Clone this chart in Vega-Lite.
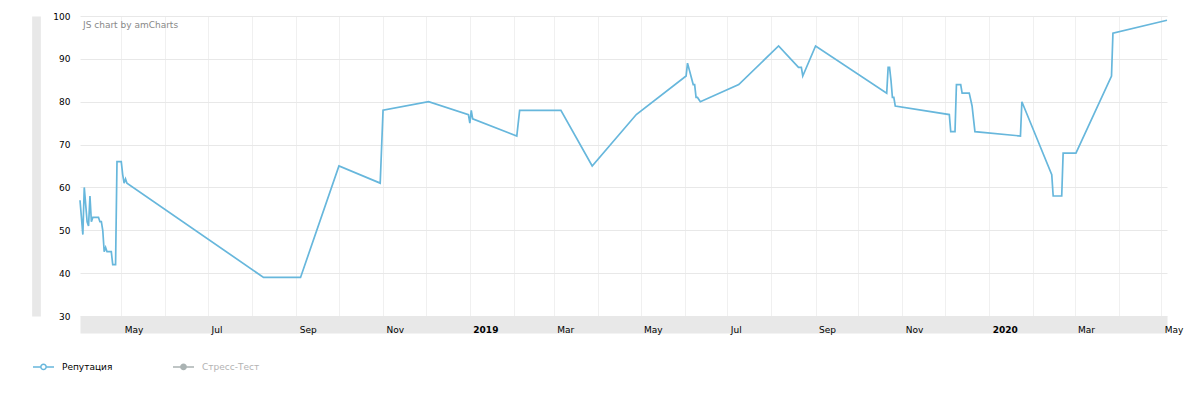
{
  "$schema": "https://vega.github.io/schema/vega-lite/v6.json",
  "width": 1087,
  "height": 300,
  "autosize": {"type": "none"},
  "padding": {"left": 80, "top": 16, "right": 33, "bottom": 81},
  "background": "white",
  "config": {"view": {"stroke": null}, "font": "DejaVu Sans"},
  "title": {"text": "JS chart by amCharts", "anchor": "start", "frame": "group", "orient": "top", "baseline": "top", "offset": -18, "dx": 3, "fontSize": 9, "fontWeight": "normal", "color": "#888888"},
  "data": {"values": [
    {"date": "2018-04-02", "value": 57, "series": "Репутация"},
    {"date": "2018-04-04", "value": 49, "series": "Репутация"},
    {"date": "2018-04-05", "value": 60, "series": "Репутация"},
    {"date": "2018-04-07", "value": 52, "series": "Репутация"},
    {"date": "2018-04-08", "value": 51, "series": "Репутация"},
    {"date": "2018-04-09", "value": 58, "series": "Репутация"},
    {"date": "2018-04-10", "value": 52, "series": "Репутация"},
    {"date": "2018-04-11", "value": 53, "series": "Репутация"},
    {"date": "2018-04-15", "value": 53, "series": "Репутация"},
    {"date": "2018-04-16", "value": 52, "series": "Репутация"},
    {"date": "2018-04-17", "value": 52, "series": "Репутация"},
    {"date": "2018-04-18", "value": 50, "series": "Репутация"},
    {"date": "2018-04-19", "value": 45, "series": "Репутация"},
    {"date": "2018-04-20", "value": 46, "series": "Репутация"},
    {"date": "2018-04-21", "value": 45, "series": "Репутация"},
    {"date": "2018-04-24", "value": 45, "series": "Репутация"},
    {"date": "2018-04-25", "value": 42, "series": "Репутация"},
    {"date": "2018-04-27", "value": 42, "series": "Репутация"},
    {"date": "2018-04-28", "value": 66, "series": "Репутация"},
    {"date": "2018-05-01", "value": 66, "series": "Репутация"},
    {"date": "2018-05-02", "value": 63, "series": "Репутация"},
    {"date": "2018-05-03", "value": 61, "series": "Репутация"},
    {"date": "2018-05-04", "value": 62, "series": "Репутация"},
    {"date": "2018-05-05", "value": 61, "series": "Репутация"},
    {"date": "2018-08-09", "value": 39, "series": "Репутация"},
    {"date": "2018-09-04", "value": 39, "series": "Репутация"},
    {"date": "2018-10-01", "value": 65, "series": "Репутация"},
    {"date": "2018-10-30", "value": 61, "series": "Репутация"},
    {"date": "2018-11-01", "value": 78, "series": "Репутация"},
    {"date": "2018-12-03", "value": 80, "series": "Репутация"},
    {"date": "2018-12-31", "value": 77, "series": "Репутация"},
    {"date": "2019-01-01", "value": 75, "series": "Репутация"},
    {"date": "2019-01-02", "value": 78, "series": "Репутация"},
    {"date": "2019-01-03", "value": 76, "series": "Репутация"},
    {"date": "2019-02-03", "value": 72, "series": "Репутация"},
    {"date": "2019-02-05", "value": 78, "series": "Репутация"},
    {"date": "2019-03-06", "value": 78, "series": "Репутация"},
    {"date": "2019-03-28", "value": 65, "series": "Репутация"},
    {"date": "2019-04-28", "value": 77, "series": "Репутация"},
    {"date": "2019-06-02", "value": 86, "series": "Репутация"},
    {"date": "2019-06-03", "value": 89, "series": "Репутация"},
    {"date": "2019-06-07", "value": 84, "series": "Репутация"},
    {"date": "2019-06-08", "value": 84, "series": "Репутация"},
    {"date": "2019-06-09", "value": 81, "series": "Репутация"},
    {"date": "2019-06-10", "value": 81, "series": "Репутация"},
    {"date": "2019-06-12", "value": 80, "series": "Репутация"},
    {"date": "2019-07-09", "value": 84, "series": "Репутация"},
    {"date": "2019-08-06", "value": 93, "series": "Репутация"},
    {"date": "2019-08-20", "value": 88, "series": "Репутация"},
    {"date": "2019-08-22", "value": 88, "series": "Репутация"},
    {"date": "2019-08-23", "value": 86, "series": "Репутация"},
    {"date": "2019-09-01", "value": 93, "series": "Репутация"},
    {"date": "2019-10-21", "value": 82, "series": "Репутация"},
    {"date": "2019-10-22", "value": 88, "series": "Репутация"},
    {"date": "2019-10-23", "value": 88, "series": "Репутация"},
    {"date": "2019-10-24", "value": 85, "series": "Репутация"},
    {"date": "2019-10-25", "value": 81, "series": "Репутация"},
    {"date": "2019-10-26", "value": 81, "series": "Репутация"},
    {"date": "2019-10-27", "value": 79, "series": "Репутация"},
    {"date": "2019-12-04", "value": 77, "series": "Репутация"},
    {"date": "2019-12-05", "value": 73, "series": "Репутация"},
    {"date": "2019-12-08", "value": 73, "series": "Репутация"},
    {"date": "2019-12-09", "value": 84, "series": "Репутация"},
    {"date": "2019-12-12", "value": 84, "series": "Репутация"},
    {"date": "2019-12-13", "value": 82, "series": "Репутация"},
    {"date": "2019-12-18", "value": 82, "series": "Репутация"},
    {"date": "2019-12-20", "value": 79, "series": "Репутация"},
    {"date": "2019-12-21", "value": 76, "series": "Репутация"},
    {"date": "2019-12-22", "value": 73, "series": "Репутация"},
    {"date": "2020-01-23", "value": 72, "series": "Репутация"},
    {"date": "2020-01-24", "value": 80, "series": "Репутация"},
    {"date": "2020-02-14", "value": 63, "series": "Репутация"},
    {"date": "2020-02-15", "value": 58, "series": "Репутация"},
    {"date": "2020-02-21", "value": 58, "series": "Репутация"},
    {"date": "2020-02-22", "value": 68, "series": "Репутация"},
    {"date": "2020-03-02", "value": 68, "series": "Репутация"},
    {"date": "2020-03-27", "value": 86, "series": "Репутация"},
    {"date": "2020-03-28", "value": 96, "series": "Репутация"},
    {"date": "2020-05-05", "value": 99, "series": "Репутация"}
  ]},
  "resolve": {"axis": {"x": "independent"}},
  "layer": [
    {
      "mark": {"type": "rule", "color": "#cccccc", "strokeWidth": 1},
      "encoding": {
        "x": {
          "datum": "2018-04-02", "type": "temporal",
          "scale": {"type": "utc", "domain": ["2018-04-02", "2020-05-05"]},
          "axis": {
            "title": null, "orient": "bottom", "offset": 8.5, "zindex": 0,
            "domain": true, "domainColor": "#e8e8e8", "domainWidth": 17, "domainCap": "butt",
            "ticks": false, "labels": false,
            "tickCount": {"interval": "month", "step": 1},
            "grid": true, "gridColor": "#f0f0f0"
          }
        },
        "x2": {"datum": "2020-05-05"},
        "y": {"datum": 30}
      }
    },
    {
      "mark": {"type": "line", "strokeWidth": 1.7},
      "encoding": {
        "x": {
          "field": "date", "type": "temporal",
          "scale": {"type": "utc", "domain": ["2018-04-02", "2020-05-05"]},
          "axis": {
            "title": null, "orient": "bottom", "offset": 8.5, "zindex": 1,
            "domain": false,
            "ticks": false, "tickSize": 0,
            "tickCount": {"interval": "month", "step": 1},
            "grid": false,
            "labelExpr": "utcmonth(datum.value) % 2 == 0 ? (utcmonth(datum.value) == 0 ? utcFormat(datum.value, '%Y') : utcFormat(datum.value, '%b')) : ''",
            "labelAlign": "left", "labelBaseline": "middle", "labelPadding": 4.5, "labelOffset": 3,
            "labelFlush": false, "labelOverlap": false, "labelBound": false,
            "labelFontSize": 9, "labelColor": "#000000",
            "labelFontWeight": {"condition": {"test": "utcmonth(datum.value) == 0", "value": "bold"}, "value": "normal"}
          }
        },
        "y": {
          "field": "value", "type": "quantitative",
          "scale": {"domain": [30, 100], "nice": false, "zero": false},
          "axis": {
            "title": null, "offset": 44,
            "domain": true, "domainColor": "#e8e8e8", "domainWidth": 8.7, "domainCap": "butt",
            "ticks": false, "tickSize": 0, "labelPadding": -34,
            "values": [30, 40, 50, 60, 70, 80, 90, 100],
            "grid": true, "gridColor": "#e8e8e8",
            "labelFontSize": 9, "labelColor": "#000000"
          }
        },
        "color": {
          "field": "series", "type": "nominal",
          "scale": {"domain": ["Репутация", "Стресс-Тест"], "range": ["#67b7dc", "#aab3b3"]},
          "legend": {
            "title": null, "orient": "none", "legendX": -48, "legendY": 339,
            "direction": "horizontal",
            "symbolType": "M-1,0H-0.25M0.25,0H1M0.25,0A0.25,0.25 0 1,1 -0.25,0A0.25,0.25 0 1,1 0.25,0Z",
            "symbolSize": 441, "symbolStrokeWidth": 1.5,
            "labelFontSize": 9, "labelOffset": 7, "columnPadding": 57,
            "encode": {
              "labels": {"update": {"fill": {"signal": "datum.value === 'Стресс-Тест' ? '#b3b3b3' : '#000000'"}}},
              "symbols": {"update": {"fill": {"signal": "datum.value === 'Стресс-Тест' ? '#aab3b3' : '#ffffff'"}, "fillOpacity": {"value": 1}}}
            }
          }
        }
      }
    }
  ]
}
